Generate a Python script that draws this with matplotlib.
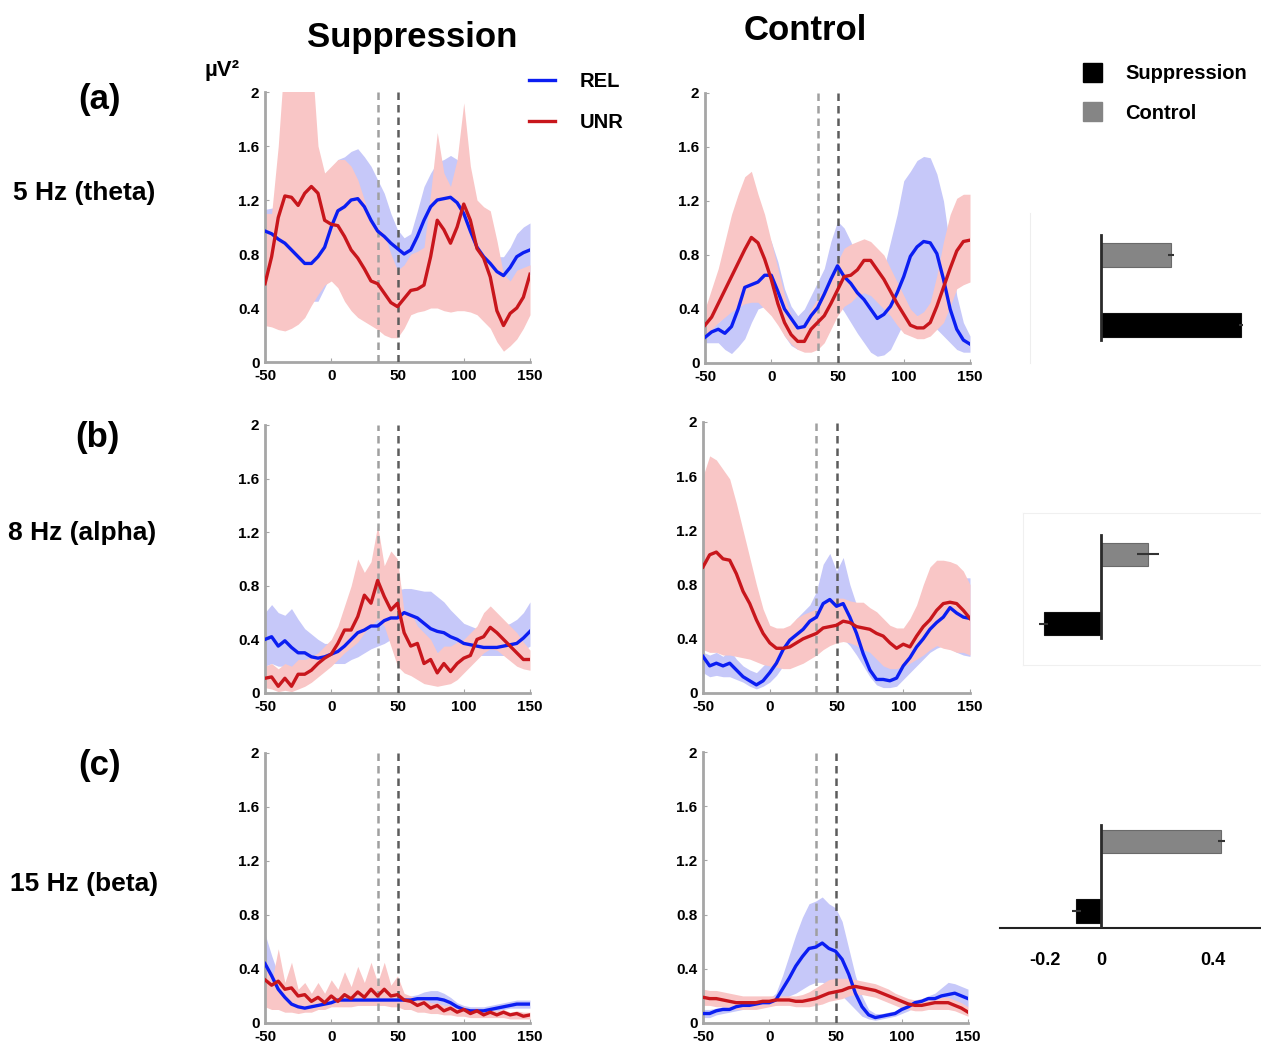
import matplotlib
matplotlib.use("Agg")
import matplotlib.pyplot as plt
from matplotlib.patches import Patch
import numpy as np

plt.rcParams['font.family'] = ['Liberation Sans', 'DejaVu Sans']
plt.rcParams['font.weight'] = 'bold'
plt.rcParams['axes.unicode_minus'] = False

# time axis (ms), 5 ms steps
t = np.arange(-50, 151, 5)

# ---- (a) 5 Hz theta ----
a_sup_rel = [0.97, 0.95, 0.91, 0.88, 0.83, 0.78, 0.73, 0.73, 0.78, 0.85, 1.00, 1.12, 1.15, 1.20, 1.21, 1.15, 1.05, 0.97, 0.93, 0.88, 0.84,
             0.80, 0.83, 0.93, 1.05, 1.15, 1.20, 1.21, 1.22, 1.18, 1.10, 0.97, 0.85, 0.78, 0.73, 0.67, 0.64, 0.70, 0.78, 0.81, 0.83]
a_sup_rel_lo = [0.80, 0.76, 0.72, 0.67, 0.62, 0.56, 0.50, 0.45, 0.45, 0.55, 0.65, 0.75, 0.85, 0.88, 0.90, 0.88, 0.85, 0.80, 0.75, 0.70, 0.67,
                0.67, 0.70, 0.75, 0.80, 0.85, 0.90, 0.92, 0.92, 0.92, 0.90, 0.80, 0.72, 0.65, 0.60, 0.55, 0.50, 0.52, 0.58, 0.62, 0.65]
a_sup_rel_hi = [1.13, 1.14, 1.15, 1.12, 1.10, 1.08, 1.05, 1.10, 1.20, 1.30, 1.42, 1.50, 1.52, 1.56, 1.58, 1.52, 1.45, 1.35, 1.25, 1.10, 0.98,
                0.92, 0.95, 1.12, 1.30, 1.40, 1.48, 1.50, 1.53, 1.50, 1.40, 1.20, 1.05, 0.95, 0.85, 0.78, 0.78, 0.85, 0.95, 1.00, 1.03]
a_sup_unr = [0.58, 0.78, 1.07, 1.23, 1.22, 1.16, 1.25, 1.30, 1.25, 1.05, 1.02, 1.01, 0.93, 0.83, 0.77, 0.69, 0.60, 0.58, 0.51, 0.44, 0.41,
             0.47, 0.53, 0.54, 0.57, 0.78, 1.05, 0.98, 0.88, 1.00, 1.17, 1.05, 0.84, 0.77, 0.63, 0.38, 0.27, 0.36, 0.40, 0.48, 0.65]
a_sup_unr_lo = [0.27, 0.26, 0.24, 0.23, 0.25, 0.28, 0.33, 0.42, 0.50, 0.57, 0.60, 0.55, 0.45, 0.38, 0.33, 0.30, 0.27, 0.24, 0.20, 0.18, 0.18,
                0.25, 0.35, 0.37, 0.38, 0.40, 0.40, 0.38, 0.37, 0.38, 0.38, 0.37, 0.35, 0.30, 0.25, 0.15, 0.08, 0.12, 0.17, 0.25, 0.35]
a_sup_unr_hi = [1.10, 1.10, 1.60, 2.30, 2.30, 2.30, 2.30, 2.30, 1.60, 1.40, 1.45, 1.50, 1.50, 1.45, 1.35, 1.20, 1.05, 1.00, 0.95, 0.80, 0.68,
                0.72, 0.80, 0.82, 0.85, 1.25, 1.70, 1.40, 1.30, 1.50, 1.92, 1.45, 1.20, 1.15, 1.12, 0.90, 0.65, 0.60, 0.68, 0.70, 0.72]

a_ctl_rel = [0.19, 0.23, 0.25, 0.22, 0.27, 0.40, 0.56, 0.58, 0.60, 0.65, 0.65, 0.53, 0.40, 0.33, 0.26, 0.27, 0.35, 0.41, 0.51, 0.62, 0.72,
             0.64, 0.59, 0.52, 0.47, 0.40, 0.33, 0.36, 0.42, 0.52, 0.64, 0.79, 0.86, 0.90, 0.89, 0.81, 0.62, 0.40, 0.25, 0.17, 0.14]
a_ctl_rel_lo = [0.15, 0.15, 0.15, 0.10, 0.07, 0.12, 0.18, 0.30, 0.40, 0.42, 0.38, 0.30, 0.20, 0.13, 0.10, 0.15, 0.20, 0.28, 0.35, 0.42, 0.45,
                0.38, 0.30, 0.22, 0.15, 0.08, 0.05, 0.06, 0.10, 0.20, 0.30, 0.34, 0.35, 0.33, 0.30, 0.25, 0.20, 0.15, 0.10, 0.08, 0.08]
a_ctl_rel_hi = [0.25, 0.28, 0.30, 0.35, 0.40, 0.52, 0.65, 0.80, 0.95, 0.98, 0.90, 0.75, 0.55, 0.42, 0.35, 0.40, 0.50, 0.60, 0.70, 0.90, 1.05,
                1.00, 0.90, 0.78, 0.65, 0.60, 0.60, 0.70, 0.90, 1.10, 1.35, 1.42, 1.50, 1.53, 1.52, 1.40, 1.20, 0.85, 0.50, 0.30, 0.20]
a_ctl_unr = [0.28, 0.34, 0.44, 0.54, 0.64, 0.74, 0.84, 0.93, 0.89, 0.77, 0.62, 0.44, 0.30, 0.21, 0.16, 0.16, 0.25, 0.30, 0.35, 0.44, 0.54,
             0.64, 0.65, 0.69, 0.76, 0.76, 0.69, 0.62, 0.53, 0.44, 0.36, 0.28, 0.26, 0.26, 0.30, 0.42, 0.56, 0.70, 0.83, 0.90, 0.91]
a_ctl_unr_lo = [0.20, 0.25, 0.30, 0.34, 0.38, 0.41, 0.44, 0.45, 0.45, 0.40, 0.35, 0.28, 0.20, 0.14, 0.10, 0.08, 0.08, 0.10, 0.15, 0.25, 0.35,
                0.42, 0.45, 0.50, 0.52, 0.50, 0.45, 0.40, 0.35, 0.28, 0.22, 0.20, 0.18, 0.18, 0.20, 0.25, 0.30, 0.42, 0.55, 0.58, 0.60]
a_ctl_unr_hi = [0.40, 0.55, 0.70, 0.90, 1.10, 1.25, 1.38, 1.42, 1.25, 1.10, 0.90, 0.70, 0.50, 0.35, 0.25, 0.30, 0.40, 0.48, 0.55, 0.65, 0.75,
                0.85, 0.88, 0.90, 0.92, 0.90, 0.85, 0.80, 0.70, 0.60, 0.50, 0.40, 0.35, 0.38, 0.45, 0.65, 0.90, 1.10, 1.22, 1.25, 1.25]

# ---- (b) 8 Hz alpha ----
b_sup_rel = [0.40, 0.42, 0.35, 0.39, 0.34, 0.30, 0.30, 0.27, 0.26, 0.27, 0.29, 0.31, 0.35, 0.40, 0.45, 0.47, 0.50, 0.50, 0.54, 0.56, 0.56,
             0.60, 0.58, 0.56, 0.52, 0.48, 0.46, 0.45, 0.42, 0.40, 0.37, 0.36, 0.35, 0.34, 0.34, 0.34, 0.35, 0.36, 0.37, 0.41, 0.46]
b_sup_rel_lo = [0.20, 0.22, 0.20, 0.20, 0.18, 0.17, 0.15, 0.15, 0.17, 0.20, 0.22, 0.22, 0.22, 0.25, 0.27, 0.30, 0.33, 0.35, 0.37, 0.40, 0.40,
                0.42, 0.40, 0.38, 0.35, 0.33, 0.30, 0.28, 0.28, 0.27, 0.27, 0.28, 0.28, 0.28, 0.28, 0.28, 0.28, 0.28, 0.30, 0.32, 0.35]
b_sup_rel_hi = [0.60, 0.66, 0.60, 0.58, 0.63, 0.55, 0.48, 0.44, 0.40, 0.37, 0.37, 0.40, 0.45, 0.50, 0.55, 0.60, 0.65, 0.68, 0.72, 0.75, 0.77,
                0.78, 0.78, 0.77, 0.76, 0.76, 0.72, 0.68, 0.62, 0.57, 0.52, 0.50, 0.48, 0.47, 0.47, 0.48, 0.50, 0.52, 0.55, 0.60, 0.68]
b_sup_unr = [0.11, 0.12, 0.05, 0.11, 0.05, 0.14, 0.14, 0.17, 0.22, 0.26, 0.29, 0.37, 0.47, 0.47, 0.57, 0.73, 0.67, 0.84, 0.72, 0.62, 0.67,
             0.45, 0.35, 0.37, 0.22, 0.25, 0.15, 0.22, 0.16, 0.22, 0.26, 0.28, 0.40, 0.42, 0.49, 0.45, 0.40, 0.35, 0.30, 0.25, 0.25]
b_sup_unr_lo = [0.04, 0.03, 0.01, 0.02, 0.01, 0.03, 0.05, 0.08, 0.12, 0.16, 0.20, 0.25, 0.30, 0.34, 0.38, 0.45, 0.50, 0.55, 0.50, 0.35, 0.20,
                0.15, 0.13, 0.10, 0.07, 0.06, 0.05, 0.06, 0.07, 0.10, 0.15, 0.20, 0.25, 0.30, 0.33, 0.32, 0.28, 0.24, 0.20, 0.18, 0.17]
b_sup_unr_hi = [0.20, 0.22, 0.18, 0.22, 0.20, 0.25, 0.25, 0.27, 0.30, 0.35, 0.40, 0.50, 0.65, 0.80, 1.00, 0.90, 0.98, 1.25, 0.95, 1.06, 1.00,
                0.60, 0.60, 0.50, 0.45, 0.40, 0.30, 0.35, 0.35, 0.38, 0.40, 0.45, 0.50, 0.60, 0.65, 0.60, 0.55, 0.50, 0.45, 0.38, 0.32]

b_ctl_rel = [0.27, 0.20, 0.22, 0.20, 0.22, 0.17, 0.12, 0.09, 0.06, 0.09, 0.15, 0.22, 0.32, 0.39, 0.43, 0.47, 0.53, 0.56, 0.66, 0.69, 0.64,
             0.66, 0.56, 0.44, 0.29, 0.17, 0.10, 0.10, 0.09, 0.11, 0.20, 0.26, 0.34, 0.40, 0.47, 0.52, 0.56, 0.63, 0.59, 0.56, 0.55]
b_ctl_rel_lo = [0.15, 0.12, 0.13, 0.12, 0.12, 0.10, 0.08, 0.05, 0.03, 0.05, 0.08, 0.13, 0.20, 0.25, 0.30, 0.33, 0.37, 0.40, 0.42, 0.45, 0.43,
                0.40, 0.35, 0.28, 0.20, 0.12, 0.06, 0.04, 0.04, 0.05, 0.10, 0.15, 0.20, 0.25, 0.30, 0.33, 0.35, 0.33, 0.30, 0.28, 0.27]
b_ctl_rel_hi = [0.30, 0.28, 0.30, 0.27, 0.32, 0.25, 0.20, 0.17, 0.15, 0.20, 0.25, 0.33, 0.42, 0.48, 0.55, 0.60, 0.65, 0.75, 0.95, 1.03, 0.90,
                1.00, 0.80, 0.65, 0.55, 0.40, 0.30, 0.25, 0.22, 0.25, 0.30, 0.38, 0.48, 0.55, 0.65, 0.72, 0.75, 0.80, 0.80, 0.85, 0.85]
b_ctl_unr = [0.93, 1.02, 1.04, 0.99, 0.98, 0.88, 0.75, 0.66, 0.54, 0.44, 0.37, 0.33, 0.33, 0.34, 0.37, 0.40, 0.42, 0.44, 0.48, 0.49, 0.50,
             0.53, 0.52, 0.49, 0.48, 0.47, 0.44, 0.42, 0.37, 0.33, 0.36, 0.34, 0.42, 0.49, 0.54, 0.61, 0.66, 0.67, 0.66, 0.61, 0.55]
b_ctl_unr_lo = [0.32, 0.30, 0.30, 0.28, 0.28, 0.27, 0.26, 0.25, 0.23, 0.21, 0.20, 0.19, 0.18, 0.18, 0.20, 0.22, 0.25, 0.28, 0.32, 0.35, 0.37,
                0.38, 0.37, 0.35, 0.32, 0.30, 0.25, 0.20, 0.18, 0.18, 0.20, 0.22, 0.25, 0.28, 0.32, 0.35, 0.33, 0.32, 0.30, 0.30, 0.28]
b_ctl_unr_hi = [1.60, 1.75, 1.72, 1.65, 1.58, 1.40, 1.20, 1.00, 0.80, 0.62, 0.50, 0.48, 0.48, 0.50, 0.55, 0.58, 0.60, 0.62, 0.65, 0.68, 0.70,
                0.70, 0.68, 0.67, 0.67, 0.63, 0.60, 0.55, 0.50, 0.48, 0.48, 0.55, 0.65, 0.80, 0.93, 0.98, 0.98, 0.97, 0.95, 0.90, 0.80]

# ---- (c) 15 Hz beta ----
c_sup_rel = [0.44, 0.35, 0.25, 0.19, 0.14, 0.12, 0.11, 0.12, 0.13, 0.14, 0.15, 0.17, 0.17, 0.17, 0.17, 0.17, 0.17, 0.17, 0.17, 0.17, 0.17,
             0.17, 0.17, 0.18, 0.18, 0.18, 0.18, 0.17, 0.15, 0.12, 0.10, 0.09, 0.09, 0.09, 0.10, 0.11, 0.12, 0.13, 0.14, 0.14, 0.14]
c_sup_rel_lo = [0.30, 0.25, 0.17, 0.13, 0.10, 0.09, 0.09, 0.10, 0.11, 0.12, 0.13, 0.14, 0.15, 0.15, 0.15, 0.15, 0.15, 0.15, 0.15, 0.15, 0.15,
                0.15, 0.15, 0.15, 0.14, 0.14, 0.14, 0.13, 0.12, 0.10, 0.08, 0.07, 0.07, 0.07, 0.08, 0.09, 0.10, 0.11, 0.11, 0.11, 0.11]
c_sup_rel_hi = [0.66, 0.50, 0.36, 0.26, 0.19, 0.15, 0.14, 0.14, 0.15, 0.16, 0.17, 0.19, 0.19, 0.19, 0.19, 0.19, 0.19, 0.19, 0.19, 0.19, 0.19,
                0.20, 0.20, 0.21, 0.23, 0.24, 0.24, 0.22, 0.19, 0.15, 0.13, 0.12, 0.12, 0.12, 0.13, 0.14, 0.15, 0.16, 0.17, 0.17, 0.17]
c_sup_unr = [0.32, 0.28, 0.31, 0.25, 0.26, 0.20, 0.21, 0.16, 0.19, 0.15, 0.20, 0.16, 0.21, 0.18, 0.23, 0.19, 0.25, 0.20, 0.25, 0.20, 0.21,
             0.17, 0.16, 0.13, 0.15, 0.11, 0.13, 0.09, 0.11, 0.08, 0.10, 0.07, 0.09, 0.06, 0.08, 0.06, 0.08, 0.06, 0.07, 0.05, 0.06]
c_sup_unr_lo = [0.12, 0.10, 0.10, 0.08, 0.08, 0.07, 0.08, 0.08, 0.10, 0.10, 0.12, 0.12, 0.12, 0.12, 0.13, 0.13, 0.13, 0.13, 0.13, 0.12, 0.12,
                0.10, 0.10, 0.08, 0.08, 0.07, 0.07, 0.06, 0.06, 0.05, 0.05, 0.04, 0.04, 0.04, 0.04, 0.04, 0.04, 0.03, 0.03, 0.03, 0.03]
c_sup_unr_hi = [0.50, 0.30, 0.55, 0.30, 0.45, 0.25, 0.30, 0.22, 0.30, 0.22, 0.32, 0.25, 0.38, 0.27, 0.42, 0.30, 0.45, 0.30, 0.45, 0.28, 0.35,
                0.22, 0.20, 0.18, 0.18, 0.15, 0.15, 0.13, 0.13, 0.11, 0.12, 0.10, 0.11, 0.09, 0.10, 0.09, 0.10, 0.08, 0.09, 0.08, 0.08]

c_ctl_rel = [0.07, 0.07, 0.09, 0.10, 0.10, 0.12, 0.13, 0.13, 0.14, 0.15, 0.15, 0.17, 0.25, 0.33, 0.42, 0.49, 0.55, 0.56, 0.59, 0.55, 0.53,
             0.47, 0.36, 0.22, 0.12, 0.06, 0.04, 0.05, 0.06, 0.07, 0.10, 0.12, 0.15, 0.16, 0.18, 0.18, 0.20, 0.21, 0.22, 0.20, 0.18]
c_ctl_rel_lo = [0.04, 0.04, 0.06, 0.07, 0.08, 0.09, 0.10, 0.11, 0.12, 0.13, 0.13, 0.13, 0.15, 0.20, 0.22, 0.25, 0.28, 0.30, 0.30, 0.28, 0.25,
                0.20, 0.15, 0.10, 0.05, 0.03, 0.02, 0.03, 0.04, 0.05, 0.07, 0.09, 0.12, 0.13, 0.14, 0.14, 0.15, 0.15, 0.15, 0.13, 0.12]
c_ctl_rel_hi = [0.10, 0.10, 0.11, 0.12, 0.13, 0.14, 0.15, 0.15, 0.16, 0.17, 0.18, 0.22, 0.35, 0.50, 0.65, 0.78, 0.88, 0.90, 0.93, 0.88, 0.85,
                0.75, 0.55, 0.35, 0.20, 0.10, 0.07, 0.07, 0.08, 0.09, 0.12, 0.15, 0.17, 0.18, 0.20, 0.22, 0.26, 0.30, 0.29, 0.27, 0.25]
c_ctl_unr = [0.19, 0.18, 0.18, 0.17, 0.16, 0.15, 0.15, 0.15, 0.15, 0.16, 0.16, 0.17, 0.17, 0.17, 0.16, 0.16, 0.17, 0.18, 0.20, 0.22, 0.23,
             0.24, 0.26, 0.27, 0.26, 0.25, 0.24, 0.22, 0.20, 0.18, 0.16, 0.14, 0.13, 0.13, 0.14, 0.15, 0.15, 0.15, 0.13, 0.11, 0.08]
c_ctl_unr_lo = [0.13, 0.13, 0.12, 0.12, 0.11, 0.10, 0.10, 0.10, 0.10, 0.11, 0.12, 0.13, 0.13, 0.13, 0.12, 0.12, 0.12, 0.13, 0.14, 0.16, 0.17,
                0.18, 0.20, 0.21, 0.21, 0.20, 0.19, 0.17, 0.15, 0.13, 0.11, 0.10, 0.09, 0.09, 0.10, 0.10, 0.10, 0.10, 0.09, 0.07, 0.05]
c_ctl_unr_hi = [0.25, 0.24, 0.24, 0.23, 0.22, 0.21, 0.20, 0.20, 0.20, 0.20, 0.20, 0.20, 0.20, 0.20, 0.20, 0.21, 0.23, 0.26, 0.29, 0.32, 0.33,
                0.33, 0.33, 0.32, 0.31, 0.30, 0.29, 0.27, 0.25, 0.22, 0.20, 0.18, 0.17, 0.18, 0.19, 0.19, 0.19, 0.19, 0.17, 0.15, 0.12]

# bar panels (Suppression, Control) per row
bar_sup = [0.50, -0.205, -0.088]
bar_ctl = [0.25, 0.167, 0.43]
bar_sup_err = [0.008, 0.015, 0.015]
bar_ctl_err = [0.010, 0.040, 0.012]

row_labels = ['(a)', '(b)', '(c)']
band_labels = ['5 Hz (theta)', '8 Hz (alpha)', '15 Hz (beta)']

BLUE = '#0b1ef2'
RED = '#c8161c'
BLUE_BAND = '#c6c8f9'
RED_BAND = '#f9c6c6'

W, H = 1261, 1047
fig = plt.figure(figsize=(W / 100, H / 100), dpi=100)


def box(x0, y0, x1, y1):
    return [x0 / W, 1 - y1 / H, (x1 - x0) / W, (y1 - y0) / H]


def draw_panel(rect, rel, rel_lo, rel_hi, unr, unr_lo, unr_hi):
    ax = fig.add_axes(box(*rect))
    ax.fill_between(t, rel_lo, rel_hi, color=BLUE_BAND, lw=0, zorder=1)
    ax.fill_between(t, unr_lo, unr_hi, color=RED_BAND, lw=0, zorder=2)
    ax.axvline(35, color='#a0a0a0', lw=1.8, ls=(0, (3, 2)), zorder=3)
    ax.axvline(50, color='#5c5c5c', lw=1.8, ls=(0, (3, 2)), zorder=3)
    l1, = ax.plot(t, rel, color=BLUE, lw=2.4, zorder=4, solid_joinstyle='round')
    l2, = ax.plot(t, unr, color=RED, lw=2.4, zorder=5, solid_joinstyle='round')
    ax.set_xlim(-50, 150)
    ax.set_ylim(0, 2)
    ax.set_xticks([-50, 0, 50, 100, 150])
    ax.set_yticks([0, 0.4, 0.8, 1.2, 1.6, 2])
    ax.set_yticklabels(['0', '0.4', '0.8', '1.2', '1.6', '2'])
    for s in ['top', 'right']:
        ax.spines[s].set_visible(False)
    for s in ['left', 'bottom']:
        ax.spines[s].set_color('#a6a6a6')
        ax.spines[s].set_linewidth(2)
    ax.tick_params(axis='both', direction='in', length=3, color='#a6a6a6', labelsize=11)
    ax.tick_params(axis='x', pad=5)
    ax.tick_params(axis='y', pad=4)
    ax.patch.set_alpha(0)
    return l1, l2


panels = [
    ((265, 92, 530, 362), a_sup_rel, a_sup_rel_lo, a_sup_rel_hi, a_sup_unr, a_sup_unr_lo, a_sup_unr_hi),
    ((705, 93, 970, 363), a_ctl_rel, a_ctl_rel_lo, a_ctl_rel_hi, a_ctl_unr, a_ctl_unr_lo, a_ctl_unr_hi),
    ((265, 425, 530, 693), b_sup_rel, b_sup_rel_lo, b_sup_rel_hi, b_sup_unr, b_sup_unr_lo, b_sup_unr_hi),
    ((703, 422, 970, 693), b_ctl_rel, b_ctl_rel_lo, b_ctl_rel_hi, b_ctl_unr, b_ctl_unr_lo, b_ctl_unr_hi),
    ((265, 753, 530, 1023), c_sup_rel, c_sup_rel_lo, c_sup_rel_hi, c_sup_unr, c_sup_unr_lo, c_sup_unr_hi),
    ((703, 752, 968, 1023), c_ctl_rel, c_ctl_rel_lo, c_ctl_rel_hi, c_ctl_unr, c_ctl_unr_lo, c_ctl_unr_hi),
]
handles = None
for p in panels:
    h = draw_panel(*p)
    if handles is None:
        handles = h

# bar panels: (axes box, y-limits, axis line span, faint frame spines)
bar_boxes = [(1030, 213, 1261, 363), (1023, 513, 1261, 665), (1000, 800, 1261, 928)]
bar_ylims = [(-0.543, 1.6), (-0.6, 1.6), (-0.245, 1.597)]
bar_vspan = [(0.153, 0.853), (0.178, 0.855), (0.0, 0.805)]
for i in range(3):
    x0, y0, x1, y1 = bar_boxes[i]
    ax = fig.add_axes(box(x0, y0, x1, y1))
    ax.barh([0, 1], [bar_sup[i], bar_ctl[i]], height=0.34, color=['black', '#858585'],
            edgecolor=['#111111', '#6a6a6a'], linewidth=0.8,
            xerr=[bar_sup_err[i], bar_ctl_err[i]],
            error_kw=dict(ecolor='#333333', elinewidth=1.5, capsize=0), zorder=2)
    ax.axvline(0, bar_vspan[i][0], bar_vspan[i][1], color='#2a2a2a', lw=2, zorder=3)
    ax.set_xlim((x0 - 1101) / 280, (x1 - 1101) / 280)
    ax.set_ylim(*bar_ylims[i])
    ax.set_yticks([])
    ax.patch.set_alpha(0)
    for s in ax.spines.values():
        s.set_visible(False)
    if i == 0:
        ax.spines['left'].set_visible(True)
        ax.spines['left'].set_color('#eeeeee')
        ax.set_xticks([])
    elif i == 1:
        for s in ['left', 'top', 'bottom']:
            ax.spines[s].set_visible(True)
            ax.spines[s].set_color('#f0f0f0')
        ax.set_xticks([])
    else:
        ax.spines['bottom'].set_visible(True)
        ax.spines['bottom'].set_color('#222222')
        ax.spines['bottom'].set_linewidth(1.5)
        ax.set_xticks([-0.2, 0, 0.4])
        ax.set_xticklabels(['-0.2', '0', '0.4'])
        ax.tick_params(axis='x', length=0, pad=17, labelsize=13)

# titles and labels
fig.text(412 / W, 1 - 37 / H, 'Suppression', ha='center', va='center', fontsize=25)
fig.text(805 / W, 1 - 30 / H, 'Control', ha='center', va='center', fontsize=25)
fig.text(205 / W, 1 - 71 / H, 'µV²', ha='left', va='center', fontsize=16)

row_pos = [(100, 100), (97, 437), (100, 766)]
band_pos = [(13, 193), (8, 533), (10, 884)]
for i in range(3):
    fig.text(row_pos[i][0] / W, 1 - row_pos[i][1] / H, row_labels[i], ha='center', va='center', fontsize=25)
    fig.text(band_pos[i][0] / W, 1 - band_pos[i][1] / H, band_labels[i], ha='left', va='center', fontsize=19)

fig.legend(handles, ['REL', 'UNR'], loc='upper left', bbox_to_anchor=(529 / W, 1 - 72 / H),
           frameon=False, fontsize=14.5, handlelength=1.3, handletextpad=1.2,
           labelspacing=1.08, borderpad=0, borderaxespad=0)

bar_handles = [Patch(facecolor='black', edgecolor='black'), Patch(facecolor='#858585', edgecolor='#858585')]
fig.legend(bar_handles, ['Suppression', 'Control'], loc='upper left', bbox_to_anchor=(1083 / W, 1 - 63 / H),
           frameon=False, fontsize=14.5, handlelength=0.95, handleheight=1.05, handletextpad=1.15,
           labelspacing=0.95, borderpad=0, borderaxespad=0)

fig.savefig('out.png', dpi=100)
